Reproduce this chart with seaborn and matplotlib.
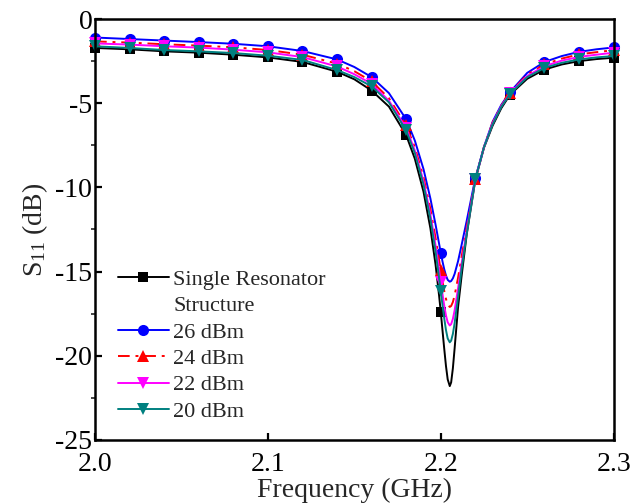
import numpy as np
import pandas as pd
import seaborn as sns
import matplotlib
matplotlib.use("Agg")
import matplotlib.pyplot as plt
from matplotlib.lines import Line2D
from matplotlib.ticker import MultipleLocator

# Frequency sweep (GHz), sampled densely around the resonance
freq = [2.00, 2.02, 2.04, 2.06, 2.08, 2.10, 2.12, 2.14,
        2.15, 2.16, 2.17, 2.18,
        2.185, 2.19, 2.194, 2.197, 2.199,
        2.200, 2.201, 2.202, 2.203, 2.204,
        2.2052,
        2.206, 2.207, 2.208, 2.210, 2.212, 2.215,
        2.22, 2.225, 2.23, 2.235,
        2.24, 2.25, 2.26, 2.27, 2.28, 2.29, 2.30]

# S11 (dB) for each case
s11_single = [-1.72, -1.80, -1.92, -2.00, -2.12, -2.28, -2.55, -3.13,
              -3.58, -4.25, -5.20, -6.90,
              -8.30, -10.25, -12.43, -14.60, -16.40,
              -17.40, -18.50, -19.58, -20.60, -21.40,
              -21.80,
              -21.58, -20.74, -19.57, -17.11, -15.30, -12.80,
              -9.55, -7.64, -6.33, -5.30,
              -4.50, -3.55, -3.00, -2.70, -2.50, -2.38, -2.30]

s11_26dbm = [-1.10, -1.19, -1.28, -1.37, -1.47, -1.62, -1.90, -2.40,
             -2.85, -3.45, -4.40, -5.96,
             -7.22, -8.91, -10.66, -12.22, -13.33,
             -13.88, -14.40, -14.86, -15.23, -15.49,
             -15.60,
             -15.56, -15.40, -15.14, -14.38, -13.44, -11.98,
             -9.45, -7.60, -6.10, -5.10,
             -4.35, -3.20, -2.55, -2.20, -1.95, -1.80, -1.69]

s11_24dbm = [-1.33, -1.40, -1.50, -1.58, -1.68, -1.84, -2.12, -2.65,
             -3.10, -3.70, -4.70, -6.32,
             -7.62, -9.40, -11.28, -13.01, -14.29,
             -14.93, -15.57, -16.14, -16.62, -16.95,
             -17.10,
             -17.04, -16.81, -16.42, -15.36, -14.14, -12.37,
             -9.50, -7.60, -6.15, -5.15,
             -4.40, -3.30, -2.70, -2.35, -2.10, -1.97, -1.85]

s11_22dbm = [-1.45, -1.52, -1.62, -1.70, -1.82, -1.98, -2.26, -2.82,
             -3.28, -3.85, -4.85, -6.48,
             -7.81, -9.63, -11.60, -13.46, -14.87,
             -15.61, -16.34, -17.02, -17.60, -18.01,
             -18.20,
             -18.12, -17.81, -17.31, -15.99, -14.56, -12.58,
             -9.50, -7.60, -6.20, -5.18,
             -4.42, -3.38, -2.80, -2.47, -2.25, -2.12, -2.00]

s11_20dbm = [-1.62, -1.72, -1.84, -1.92, -2.02, -2.18, -2.43, -3.03,
             -3.45, -4.00, -4.95, -6.62,
             -7.97, -9.83, -11.87, -13.83, -15.36,
             -16.17, -17.00, -17.78, -18.47, -18.97,
             -19.20,
             -19.10, -18.70, -18.07, -16.50, -14.88, -12.74,
             -9.50, -7.60, -6.25, -5.22,
             -4.45, -3.45, -2.90, -2.60, -2.40, -2.28, -2.20]

series_labels = ["Single Resonator", "26 dBm", "24 dBm", "22 dBm", "20 dBm"]
series_values = [s11_single, s11_26dbm, s11_24dbm, s11_22dbm, s11_20dbm]

x_ticks = [2.0, 2.1, 2.2, 2.3]
y_ticks = [0, -5, -10, -15, -20, -25]

colors = ["#000000", "#0000FF", "#FF0000", "#FF00FF", "#008080"]
markers = ["s", "o", "^", "v", "v"]
msizes = [6.5, 8, 8.5, 8.5, 8.5]
styles = ["-", "-", (0, (6, 3, 1.5, 3)), "-", "-"]

sns.set_theme(style="ticks")
plt.rcParams["font.family"] = ["Liberation Serif", "DejaVu Serif"]
plt.rcParams["mathtext.fontset"] = "custom"
plt.rcParams["mathtext.rm"] = "Liberation Serif"
plt.rcParams["mathtext.it"] = "Liberation Serif:italic"

fig = plt.figure(figsize=(6.31, 5.04), dpi=100)
ax = fig.add_axes([0.1506, 0.127, 0.8219, 0.8353])

f_arr = np.asarray(freq)
# markers every 0.02 GHz
mark_idx = [i for i, f in enumerate(f_arr) if abs(f * 50 - round(f * 50)) < 1e-6]

df = pd.DataFrame({"freq": freq})
for lab, vals in zip(series_labels, series_values):
    df[lab] = vals

handles = []
for lab, col, mk, ms, ls in zip(series_labels, colors, markers, msizes, styles):
    sns.lineplot(data=df, x="freq", y=lab, ax=ax, color=col, linewidth=1.4,
                 linestyle=ls, marker=mk, markersize=ms, markevery=mark_idx,
                 markeredgewidth=0, clip_on=False, legend=False, sort=False)
    handles.append(Line2D([], [], color=col, linewidth=1.4, linestyle=ls,
                          marker=mk, markersize=ms, markeredgewidth=0))

ax.set_xticks(x_ticks)
ax.set_xticklabels([f"{t:.1f}" for t in x_ticks])
ax.set_yticks(y_ticks)
ax.set_yticklabels([f"{t}" for t in y_ticks])
ax.yaxis.set_minor_locator(MultipleLocator(2.5))
ax.set_xlim(2.0, 2.3)
ax.set_ylim(-25, 0)

for sp in ax.spines.values():
    sp.set_linewidth(1.8)
    sp.set_color("black")

ax.tick_params(axis="both", which="major", direction="in", length=5, width=1.6,
               labelsize=20, colors="black")
ax.tick_params(axis="y", which="major", pad=2)
ax.tick_params(axis="x", which="major", pad=9)
ax.tick_params(axis="y", which="minor", direction="out", length=3, width=1.2)
ax.tick_params(axis="x", which="minor", bottom=False)

ax.set_xlabel("Frequency (GHz)", fontsize=20, labelpad=0)
ax.set_ylabel(r"S$_{\mathrm{11}}$ (dB)", fontsize=20, labelpad=4)

# Legend: first entry spans two lines, second line gets a blank handle
blank = Line2D([], [], linestyle="none", marker="none")
leg_handles = [handles[0], blank] + handles[1:]
leg_labels = ["Single Resonator", "Structure"] + series_labels[1:]
ax.legend(leg_handles, leg_labels, loc="upper left",
          bbox_to_anchor=(0.044, 0.405), frameon=False, fontsize=16,
          handlelength=2.3, handletextpad=0.2, labelspacing=0.26,
          borderpad=0, borderaxespad=0)

fig.savefig("out.png", dpi=100)
